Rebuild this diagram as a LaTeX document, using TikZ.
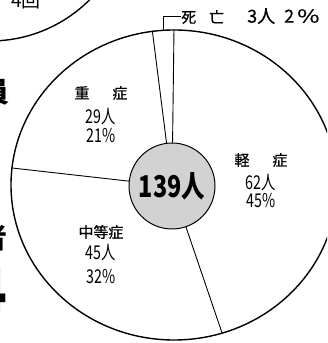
\documentclass[tikz,border=0pt]{standalone}
\usepackage{fontspec}
\setmainfont{Noto Sans CJK JP}
\usetikzlibrary{shapes.geometric}
\tikzset{>=latex}
\newcommand{\narrow}[1]{\scalebox{0.75}[1]{#1}}

\begin{document}
\begin{tikzpicture}[x=1pt,y=1pt,
  kind/.style={font=\fontsize{15}{15}\selectfont\addfontfeature{FakeBold=0.5}, inner sep=0pt},
  count/.style={font=\fontsize{19}{19}\selectfont, inner sep=0pt, text height=14pt, text depth=0pt},
  cut/.style={font=\fontsize{28}{28}\selectfont\bfseries, inner sep=0pt, anchor=east},
  slice/.style={line width=0.9pt}]
\clip (0,0) rectangle (327,343);
% neighbouring chart, cut off by the frame
\draw[line width=1.4pt] (-10,443) circle (141);
\node[font=\fontsize{19}{19}\selectfont, inner sep=0pt] (prev) at (26,342) {4回};
% headline fragments at the left edge
\node[cut] (headA) at (10,251) {員};
\node[cut] (headB) at (8,105) {者};
\node[cut, font=\fontsize{64}{64}\selectfont\bfseries] (headC) at (8,53) {4};
% the pie
\node[ellipse, draw, line width=1.4pt, minimum width=326pt, minimum height=310pt, inner sep=0pt] (pie) at (174,158) {};
\node[circle, draw, line width=1pt, fill=gray!35, minimum size=86pt, inner sep=0pt,
  font=\fontsize{30}{30}\selectfont\bfseries] (total) at (172,157) {\scalebox{0.78}[1]{139人}};
\draw[slice] (total) -- (pie.98.5);
\draw[slice] (total) -- (pie.90.4);
\draw[slice] (total) -- (pie.174);
\draw[slice] (total) -- (pie.-72);
% dead
\node[kind, anchor=west] (dead) at (181,327) {死\hspace{13pt}亡\hspace{23pt}{\fontsize{18}{18}\selectfont 3人\hspace{9pt}2\,\scalebox{1.35}[1]{\%}}};
\draw[slice] (pie.94) |- (dead.west);
% severe
\node[kind] (severe) at (101,250) {重\hspace{23pt}症};
\node[count] (severeN) at (101,226) {\narrow{29人}};
\node[count] (severeP) at (101,207) {\narrow{21\%}};
% mild
\node[kind] (mild) at (261,183) {軽\hspace{23pt}症};
\node[count] (mildN) at (261,160) {\narrow{62人}};
\node[count] (mildP) at (261,142) {\narrow{45\%}};
% moderate
\node[kind] (moder) at (101,111) {中等症};
\node[count] (moderN) at (101,90) {\narrow{45人}};
\node[count] (moderP) at (101,66) {\narrow{32\%}};
\end{tikzpicture}
\end{document}
